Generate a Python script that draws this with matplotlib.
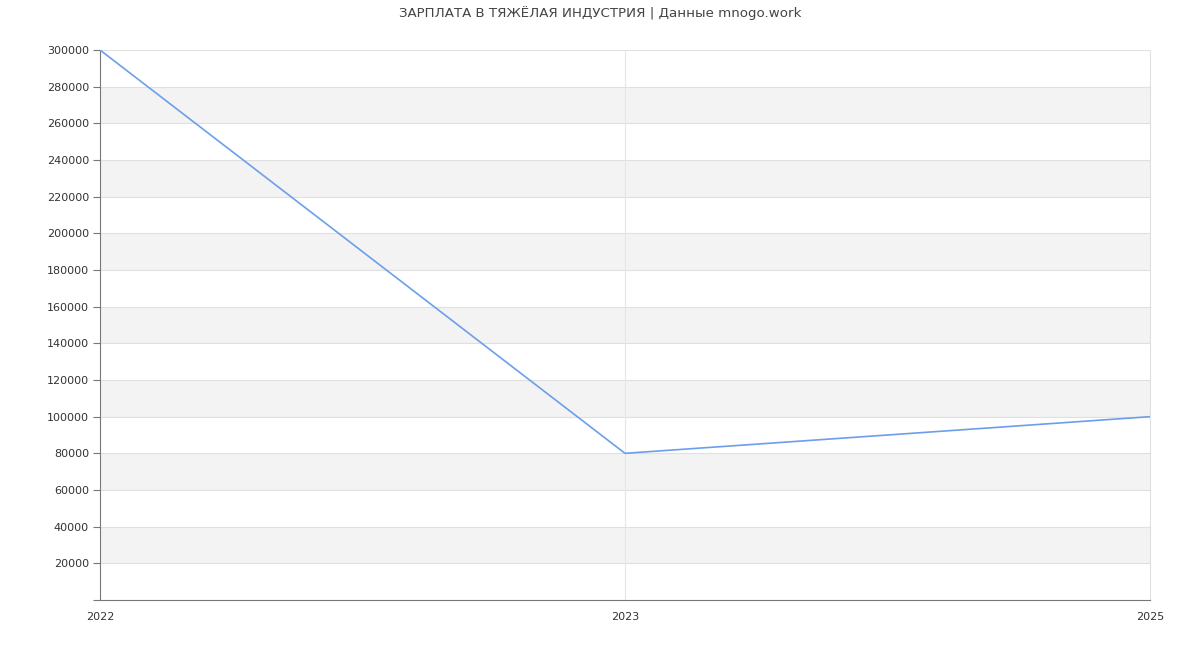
import matplotlib
matplotlib.use('Agg')
import matplotlib.pyplot as plt

# Salary data
years = ['2022', '2023', '2025']
salary = [300000, 80000, 100000]

y_ticks = list(range(0, 300001, 20000))
y_labels = ['' if v == 0 else str(v) for v in y_ticks]

fig = plt.figure(figsize=(12, 6.5), dpi=100)
ax = fig.add_axes([100 / 1200, 50 / 650, 1050 / 1200, 550 / 650])

x = list(range(len(years)))

# alternating horizontal bands
for i, lo in enumerate(y_ticks[:-1]):
    if (lo // 20000) % 2 == 1:
        ax.axhspan(lo, lo + 20000, color='#f3f3f3', zorder=0, lw=0)
for v in y_ticks[1:]:
    ax.axhline(v, color='#e0e0e0', lw=0.8, zorder=1)
for xi in x[1:-1]:
    ax.axvline(xi, color='#e6e6e6', lw=0.8, zorder=1)

ax.plot(x, salary, color='#6d9eeb', lw=1.2, zorder=3)

ax.set_xlim(0, len(years) - 1)
ax.set_ylim(0, 300000)
ax.set_xticks(x)
ax.set_xticklabels(years)
ax.set_yticks(y_ticks)
ax.set_yticklabels(y_labels)
ax.tick_params(axis='y', labelsize=8, colors='#333333', length=5, width=0.8, pad=3)
ax.tick_params(axis='x', labelsize=8, colors='#333333', length=0, pad=9)
ax.tick_params(axis='y', color='#777777')

ax.spines['left'].set_color('#777777')
ax.spines['bottom'].set_color('#777777')
ax.spines['right'].set_color('#e0e0e0')
ax.spines['top'].set_visible(False)
for s in ax.spines.values():
    s.set_linewidth(0.8)

fig.suptitle('ЗАРПЛАТА В ТЯЖЁЛАЯ ИНДУСТРИЯ | Данные mnogo.work',
             y=1 - 6 / 650, fontsize=9.6, color='#444444')

fig.savefig('out.png', dpi=100)
